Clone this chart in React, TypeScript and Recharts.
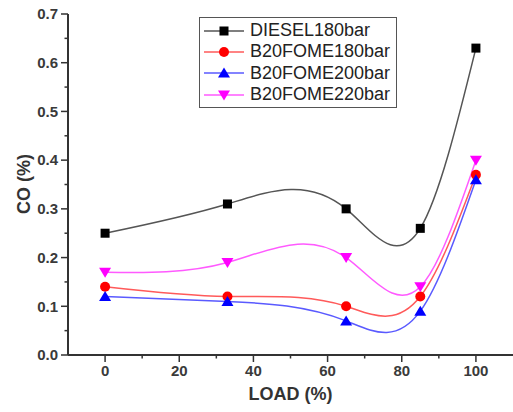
import React from "react";
import { LineChart, Line, XAxis, YAxis } from "recharts";

const loads = [0, 33, 65, 85, 100];
const diesel180 = [0.25, 0.31, 0.3, 0.26, 0.63];
const fome180 = [0.14, 0.12, 0.1, 0.12, 0.37];
const fome200 = [0.12, 0.11, 0.07, 0.09, 0.36];
const fome220 = [0.17, 0.19, 0.2, 0.14, 0.4];

const xTicks = [0, 10, 20, 30, 40, 50, 60, 70, 80, 90, 100];
const yTicks = [0, 0.05, 0.1, 0.15, 0.2, 0.25, 0.3, 0.35, 0.4, 0.45, 0.5, 0.55, 0.6, 0.65, 0.7];

const FONT = '"Liberation Sans", Arial, sans-serif';
const AXIS = "#333";

const series = [
  { key: "d180", name: "DIESEL180bar", values: diesel180, line: "#555", fill: "#000", shape: "square" },
  { key: "f180", name: "B20FOME180bar", values: fome180, line: "#ff5a5a", fill: "#ff0000", shape: "circle" },
  { key: "f200", name: "B20FOME200bar", values: fome200, line: "#5a5aff", fill: "#0000ff", shape: "up" },
  { key: "f220", name: "B20FOME220bar", values: fome220, line: "#ff5aff", fill: "#ff00ff", shape: "down" },
];

const data = loads.map((load, i) => {
  const row: Record<string, number> = { load };
  series.forEach((s) => (row[s.key] = s.values[i]));
  return row;
});

// natural cubic spline of y over x (like Origin's spline connect)
function splineCurve(context: any) {
  let xs: number[] = [];
  let ys: number[] = [];
  return {
    areaStart() {},
    areaEnd() {},
    lineStart() {
      xs = [];
      ys = [];
    },
    point(x: number, y: number) {
      xs.push(+x);
      ys.push(+y);
    },
    lineEnd() {
      const n = xs.length;
      if (!n) return;
      context.moveTo(xs[0], ys[0]);
      if (n < 3) {
        for (let i = 1; i < n; i++) context.lineTo(xs[i], ys[i]);
        return;
      }
      const h = xs.slice(1).map((x, i) => x - xs[i]);
      const M = new Array(n).fill(0);
      const a: number[] = [], b: number[] = [], c: number[] = [], d: number[] = [];
      for (let i = 1; i < n - 1; i++) {
        a.push(h[i - 1]);
        b.push(2 * (h[i - 1] + h[i]));
        c.push(h[i]);
        d.push(6 * ((ys[i + 1] - ys[i]) / h[i] - (ys[i] - ys[i - 1]) / h[i - 1]));
      }
      const m = b.length;
      for (let i = 1; i < m; i++) {
        const w = a[i] / b[i - 1];
        b[i] -= w * c[i - 1];
        d[i] -= w * d[i - 1];
      }
      const sol = new Array(m).fill(0);
      sol[m - 1] = d[m - 1] / b[m - 1];
      for (let i = m - 2; i >= 0; i--) sol[i] = (d[i] - c[i] * sol[i + 1]) / b[i];
      for (let i = 0; i < m; i++) M[i + 1] = sol[i];
      for (let i = 0; i < n - 1; i++) {
        const hi = h[i];
        const s = (ys[i + 1] - ys[i]) / hi;
        const d0 = s - (hi * (2 * M[i] + M[i + 1])) / 6;
        const d1 = s + (hi * (M[i] + 2 * M[i + 1])) / 6;
        context.bezierCurveTo(
          xs[i] + hi / 3,
          ys[i] + (d0 * hi) / 3,
          xs[i + 1] - hi / 3,
          ys[i + 1] - (d1 * hi) / 3,
          xs[i + 1],
          ys[i + 1]
        );
      }
    },
  };
}

function Marker({ cx, cy, shape, fill }: { cx: number; cy: number; shape: string; fill: string }) {
  if (shape === "square") return <rect x={cx - 4.5} y={cy - 4.5} width={9} height={9} fill={fill} />;
  if (shape === "circle") return <circle cx={cx} cy={cy} r={5} fill={fill} />;
  if (shape === "up")
    return <polygon points={`${cx},${cy - 5.5} ${cx + 6},${cy + 4.5} ${cx - 6},${cy + 4.5}`} fill={fill} />;
  return <polygon points={`${cx},${cy + 5.5} ${cx + 6},${cy - 4.5} ${cx - 6},${cy - 4.5}`} fill={fill} />;
}

const TICK = 7;
const MARGIN = 3;

function XTick({ x, y, payload }: any) {
  const major = payload.value % 20 === 0;
  const top = y - MARGIN - TICK;
  return (
    <g>
      <line x1={x} x2={x} y1={top} y2={top + (major ? TICK : TICK / 2)} stroke={AXIS} strokeWidth={1.5} />
      {major && (
        <text x={x} y={y} dy="0.71em" textAnchor="middle" fontFamily={FONT} fontSize={15} fontWeight="bold" fill="#3a3a3a">
          {payload.value}
        </text>
      )}
    </g>
  );
}

function YTick({ x, y, payload }: any) {
  const major = Math.round(payload.value * 100) % 10 === 0;
  const right = x + MARGIN + TICK;
  return (
    <g>
      <line x1={right} x2={right - (major ? TICK : TICK / 2)} y1={y} y2={y} stroke={AXIS} strokeWidth={1.5} />
      {major && (
        <text x={x} y={y} dy="0.355em" textAnchor="end" fontFamily={FONT} fontSize={15} fontWeight="bold" fill="#3a3a3a">
          {payload.value.toFixed(1)}
        </text>
      )}
    </g>
  );
}

function LegendBox() {
  return (
    <div
      style={{
        position: "absolute",
        left: 199,
        top: 17,
        border: "1.5px solid #555",
        width: 196,
        padding: "2px 0",
        background: "#fff",
        fontFamily: FONT,
        fontSize: 18,
        color: "#222",
      }}
    >
      {series.map((s) => (
        <div key={s.key} style={{ display: "flex", alignItems: "center", height: 21.3 }}>
          <svg width={48} height={14} style={{ marginLeft: 2 }}>
            <line x1={2} x2={42} y1={7} y2={7} stroke={s.line} strokeWidth={1.5} />
            <Marker cx={22} cy={7} shape={s.shape} fill={s.fill} />
          </svg>
          <span>{s.name}</span>
        </div>
      ))}
    </div>
  );
}

export default function App() {
  return (
    <div style={{ position: "absolute", left: 0, top: 0, width: 513, height: 412, background: "#fff" }}>
      <LineChart width={513} height={412} data={data} margin={{ top: 14, right: 0, bottom: 0, left: 0 }}>
        <XAxis
          dataKey="load"
          type="number"
          domain={[-10, 110]}
          ticks={xTicks}
          interval={0}
          height={57}
          tickSize={TICK}
          tickMargin={MARGIN}
          tickLine={false}
          tick={<XTick />}
          axisLine={{ stroke: AXIS, strokeWidth: 2 }}
          label={{
            value: "LOAD (%)",
            position: "insideBottom",
            offset: 12,
            fontFamily: FONT,
            fontSize: 18,
            fontWeight: "bold",
            fill: "#333",
          }}
        />
        <YAxis
          type="number"
          domain={[0, 0.7]}
          ticks={yTicks}
          interval={0}
          width={68}
          tickSize={TICK}
          tickMargin={MARGIN}
          tickLine={false}
          tick={<YTick />}
          axisLine={{ stroke: AXIS, strokeWidth: 2 }}
          label={{
            content: () => (
              <text
                x={24}
                y={184}
                transform="rotate(-90 24 184)"
                textAnchor="middle"
                dy="0.355em"
                fontFamily={FONT}
                fontSize={18}
                fontWeight="bold"
                fill="#333"
              >
                CO (%)
              </text>
            ),
          }}
        />
        {series.map((s) => (
          <Line
            key={s.key}
            dataKey={s.key}
            name={s.name}
            type={splineCurve as any}
            stroke={s.line}
            strokeWidth={1.5}
            isAnimationActive={false}
            dot={(p: any) => <Marker key={`${s.key}-${p.index}`} cx={p.cx} cy={p.cy} shape={s.shape} fill={s.fill} />}
            activeDot={false}
          />
        ))}
      </LineChart>
      <LegendBox />
    </div>
  );
}
